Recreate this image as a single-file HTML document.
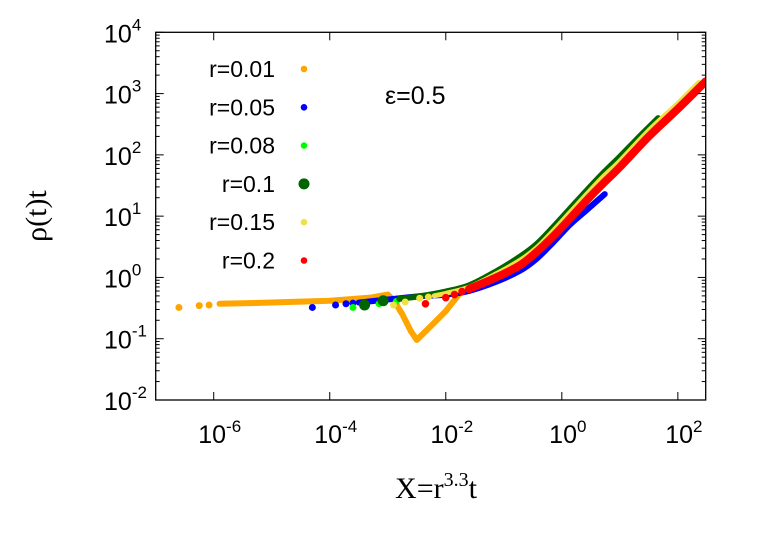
<!DOCTYPE html>
<html><head><meta charset="utf-8"><style>
html,body{margin:0;padding:0;background:#fff;}
svg{display:block;font-family:"Liberation Sans",sans-serif;}
</style></head><body>
<svg id="chart" width="763" height="534">
<g id="plot"></g>
<text x="385" y="104" font-size="25">ε=0.5</text>
<text transform="translate(46,216) rotate(-90)" text-anchor="middle" font-size="30" font-family="Liberation Serif, serif">ρ(t)t</text>
<text x="436" y="498" text-anchor="middle" font-size="30" font-family="Liberation Serif, serif">X=r<tspan dy="-12" font-size="20">3.3</tspan><tspan dy="12">t</tspan></text>
</svg>
<script>
// data (log10 X, log10 rho*t)
const seriesNames = ["r=0.01","r=0.05","r=0.08","r=0.1","r=0.15","r=0.2"];
const seriesColors = ["#ffa500","#0000ff","#00ff00","#006400","#f0e040","#ff0000"];
const orangeX = [-3.0,-2.9,-2.75,-2.6,-2.5,-2.2,-2.0,-1.76,-1.6];
const orangeY = [-0.28,-0.37,-0.6,-0.88,-1.02,-0.74,-0.55,-0.26,-0.2];
const orangeBaseX = [-5.9,-5,-4,-3.3,-3.0];
const orangeBaseY = [-0.43,-0.41,-0.38,-0.33,-0.28];
const orangeDotsX = [-6.6,-6.25,-6.08];
const orangeDotsY = [-0.49,-0.46,-0.45];
const blueX = [-3.5,-3,-2.5,-2,-1.6,-1.13,-0.72,-0.44,-0.16,0.14,0.43,0.74];
const blueY = [-0.41,-0.36,-0.31,-0.28,-0.22,-0.07,0.11,0.3,0.56,0.86,1.1,1.36];
const blueDotsX = [-4.3,-3.9,-3.72,-3.6];
const blueDotsY = [-0.49,-0.45,-0.43,-0.42];
const lgreenDotsX = [-3.6,-3.15,-2.85];
const lgreenDotsY = [-0.49,-0.43,-0.39];
const dgreenX = [-2.8,-2.4,-2,-1.6,-1.13,-0.72,-0.44,-0.16,0.14,0.43,0.71,1,1.34,1.66];
const dgreenY = [-0.35,-0.3,-0.23,-0.13,0.1,0.34,0.54,0.81,1.12,1.42,1.7,1.97,2.3,2.6];
const dgreenDotsX = [-3.4,-3.08];
const dgreenDotsY = [-0.45,-0.38];
const yellowX = [-2.2,-2.0,-1.6,-1.13,-0.72,-0.44,-0.16,0.14,0.43,0.71,1,1.5,2,2.36];
const yellowY = [-0.3,-0.26,-0.16,0.06,0.28,0.48,0.75,1.06,1.36,1.64,1.9,2.4,2.84,3.18];
const yellowDotsX = [-2.9,-2.7,-2.45,-2.3];
const yellowDotsY = [-0.45,-0.4,-0.34,-0.32];
const redX = [-1.6,-1.13,-0.72,-0.44,-0.16,0.14,0.43,0.71,1,1.5,2,2.48];
const redY = [-0.19,0.0,0.2,0.41,0.66,0.96,1.26,1.53,1.8,2.3,2.75,3.2];
const redDotsX = [-2.35,-2.0,-1.85,-1.72];
const redDotsY = [-0.43,-0.33,-0.28,-0.23];
const xTicks = [-6,-4,-2,0,2];
const yTicks = [-2,-1,0,1,2,3,4];

const L=155.7,R=705.7,T=32.3,B=400;
const xmin=-7.0,xmax=2.48,ymin=-2,ymax=4;
const sx=v=>L+(v-xmin)/(xmax-xmin)*(R-L);
const sy=v=>B-(v-ymin)/(ymax-ymin)*(B-T);
const NS="http://www.w3.org/2000/svg";
const svg=document.getElementById('chart');
const plot=document.getElementById('plot');
function mk(tag,attrs,parent){const e=document.createElementNS(NS,tag);for(const k in attrs)e.setAttribute(k,attrs[k]);(parent||svg).appendChild(e);return e;}

const clip=mk('clipPath',{id:'cp'});mk('rect',{x:L,y:T,width:R-L,height:B-T},clip);
plot.setAttribute('clip-path','url(#cp)');

function smoothPath(xs,ys){
  const p=xs.map((x,i)=>[sx(x),sy(ys[i])]);
  let d='M'+p[0][0]+','+p[0][1];
  for(let i=0;i<p.length-1;i++){
    const p0=p[Math.max(0,i-1)],p1=p[i],p2=p[i+1],p3=p[Math.min(p.length-1,i+2)];
    const c1=[p1[0]+(p2[0]-p0[0])/6,p1[1]+(p2[1]-p0[1])/6];
    const c2=[p2[0]-(p3[0]-p1[0])/6,p2[1]-(p3[1]-p1[1])/6];
    d+=' C'+c1+' '+c2+' '+p2;
  }
  return d;
}
function line(xs,ys,color,w,name,straight){
  const d=straight?'M'+xs.map((x,i)=>sx(x)+','+sy(ys[i])).join(' L'):smoothPath(xs,ys);
  const p=mk('path',{d:d,fill:'none',stroke:color,'stroke-width':w,'stroke-linejoin':'round','stroke-linecap':'round'},plot);
  
  
}
function dots(xs,ys,color,r,name){
  xs.forEach((x,i)=>{const c=mk('circle',{cx:sx(x),cy:sy(ys[i]),r:r,fill:color},plot);
    
    });
}
line(orangeBaseX,orangeBaseY,seriesColors[0],6,'series-r001-line',true);
line(orangeX,orangeY,seriesColors[0],6,'series-r001-dip',true);
dots(orangeDotsX,orangeDotsY,seriesColors[0],3.5,'series-r001-point');
line(blueX,blueY,seriesColors[1],6,'series-r005-line');
dots(blueDotsX,blueDotsY,seriesColors[1],3.5,'series-r005-point');
dots(lgreenDotsX,lgreenDotsY,seriesColors[2],3.5,'series-r008-point');
line(dgreenX,dgreenY,seriesColors[3],6,'series-r01-line');
dots(dgreenDotsX,dgreenDotsY,seriesColors[3],5.5,'series-r01-point');
line(yellowX,yellowY,seriesColors[4],5,'series-r015-line');
dots(yellowDotsX,yellowDotsY,seriesColors[4],3.5,'series-r015-point');
line(redX,redY,seriesColors[5],8,'series-r02-line');
dots(redDotsX,redDotsY,seriesColors[5],3.8,'series-r02-point');

const fr=mk('rect',{x:L,y:T,width:R-L,height:B-T,fill:'none',stroke:'#000','stroke-width':1.3});



xTicks.forEach(v=>{
  const x=sx(v);
  mk('line',{x1:x,x2:x,y1:B,y2:B-8,stroke:'#000'});
  mk('line',{x1:x,x2:x,y1:T,y2:T+8,stroke:'#000'});
  const t=mk('text',{x:x+6,y:B+43,'text-anchor':'middle','font-size':25});
  
  
  t.innerHTML='10<tspan dy="-11" font-size="17">'+v+'</tspan>';
});
yTicks.forEach(v=>{
  const y=sy(v);
  mk('line',{x1:L,x2:L+8,y1:y,y2:y,stroke:'#000'});
  mk('line',{x1:R,x2:R-8,y1:y,y2:y,stroke:'#000'});
  if(v<ymax){for(let m=2;m<10;m++){const ym=sy(v+Math.log10(m));
    mk('line',{x1:L,x2:L+4,y1:ym,y2:ym,stroke:'#000'});
    mk('line',{x1:R,x2:R-4,y1:ym,y2:ym,stroke:'#000'});}}
  const t=mk('text',{x:104,y:y+10,'font-size':25});
  
  
  t.innerHTML='10<tspan dy="-12" font-size="17">'+v+'</tspan>';
});
seriesNames.forEach((n,i)=>{
  const y=69+i*38.3;
  const t=mk('text',{x:275,y:y+8,'text-anchor':'end','font-size':23});
  
  
  t.textContent=n;
  const c=mk('circle',{cx:304,cy:y,r:i==3?5.5:3.3,fill:seriesColors[i]});
  
  
});
</script>
</body></html>
